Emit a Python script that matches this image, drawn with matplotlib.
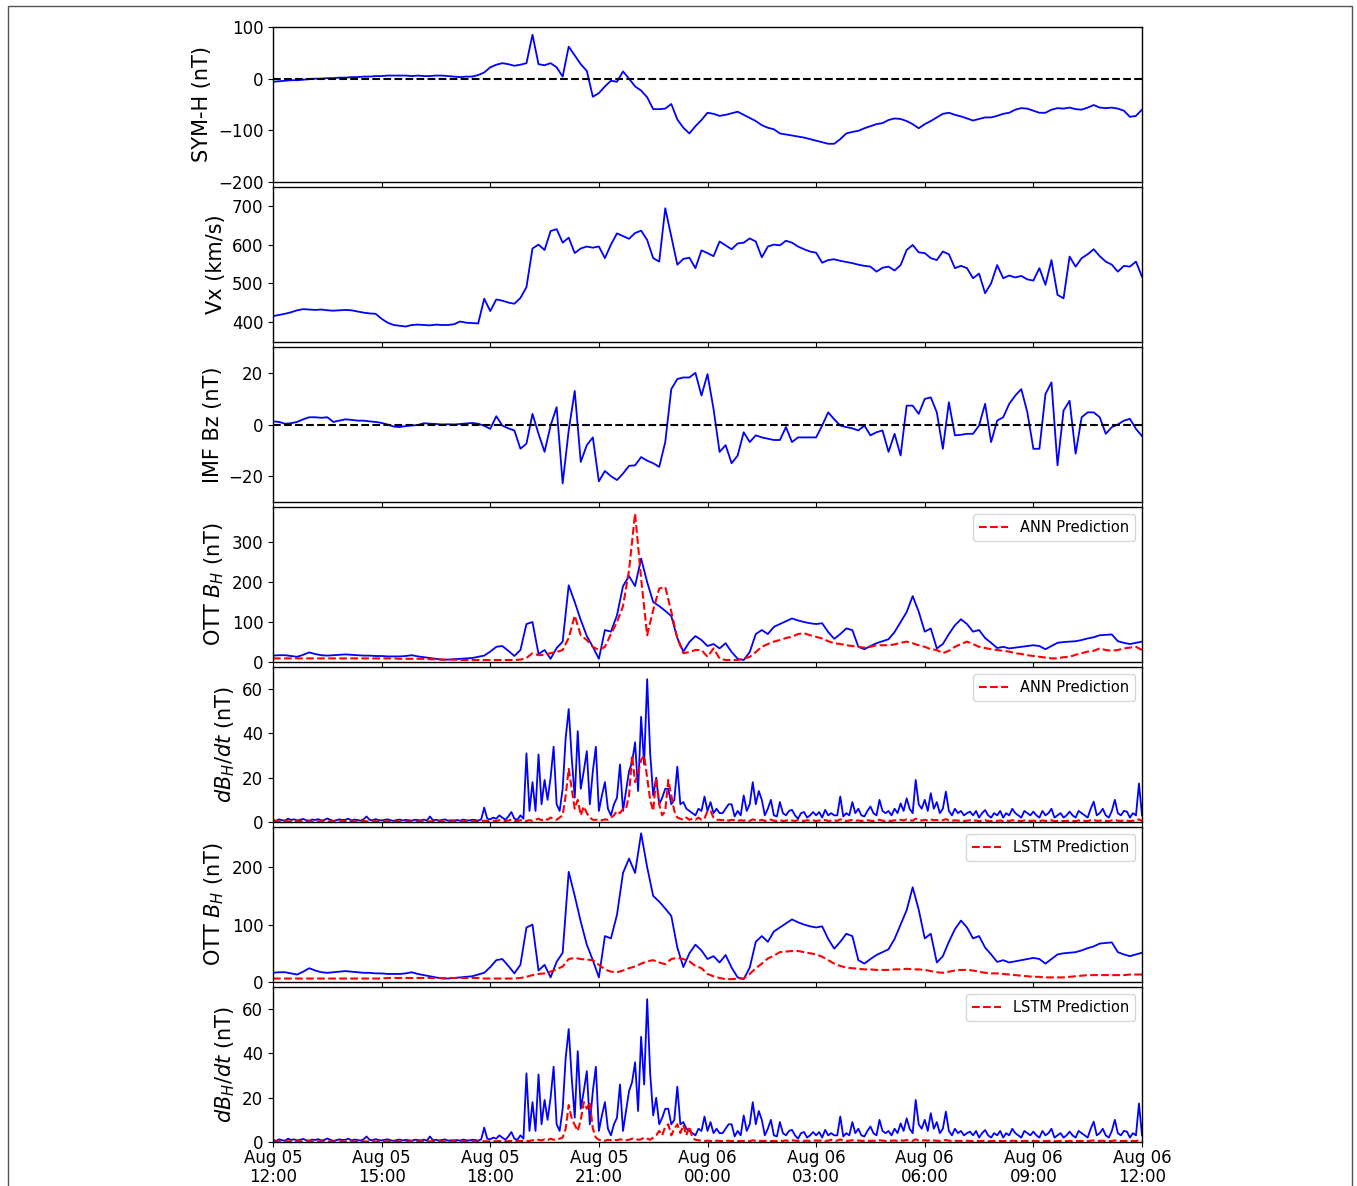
import numpy as np
import pandas as pd
import matplotlib
matplotlib.use("Agg")
import matplotlib.pyplot as plt
import matplotlib.dates as mdates
from matplotlib.patches import Rectangle

START = "2011-08-05 12:00"

# 10-minute samples, one row per hour (12:00 Aug 05 -> 12:00 Aug 06)
symh = [
    -6, -5, -4, -3, -3, -2,
    -1, 0, 0, 1, 1, 2,
    2, 3, 3, 4, 4, 5,
    5, 6, 6, 6, 6, 5,
    6, 5, 5, 6, 6, 5,
    4, 3, 4, 4, 7, 12,
    22, 27, 30, 28, 25, 27,
    30, 85, 28, 26, 30, 22,
    4, 62, 45, 28, 15, -35,
    -28, -15, -4, -6, 14, 0,
    -15, -23, -36, -59, -59, -58,
    -49, -79, -95, -106, -92, -80,
    -66, -68, -72, -70, -67, -64,
    -70, -76, -82, -90, -95, -98,
    -106, -108, -110, -112, -114, -117,
    -120, -123, -126, -126, -117, -106,
    -103, -101, -96, -92, -88, -86,
    -80, -77, -78, -82, -88, -96,
    -88, -82, -75, -68, -66, -70,
    -73, -77, -81, -78, -75, -75,
    -72, -68, -66, -60, -57, -58,
    -62, -66, -66, -60, -57, -58,
    -56, -59, -60, -56, -51, -56,
    -57, -56, -58, -62, -74, -72,
    -60,
]

vx = [
    415, 418, 421, 425, 430, 433,
    432, 431, 432, 430, 429, 430,
    431, 430, 427, 424, 422, 421,
    408, 398, 392, 390, 388, 392,
    393, 392, 391, 393, 392, 392,
    394, 401, 398, 397, 396, 460,
    428, 458, 455, 450, 447, 462,
    490, 590, 600, 586, 635, 640,
    605, 618, 578, 590, 595, 592,
    595, 565, 600, 629, 622, 615,
    630, 636, 612, 565, 556, 694,
    621, 548, 563, 566, 539, 585,
    578, 570, 608, 598, 588, 603,
    605, 616, 608, 567, 595, 600,
    598, 610, 605, 595, 588, 582,
    579, 553, 560, 562, 558, 555,
    552, 548, 545, 543, 530, 540,
    543, 533, 547, 586, 599, 580,
    578, 565, 560, 582, 575, 539,
    545, 539, 513, 525, 474, 500,
    547, 513, 520, 515, 519, 510,
    507, 539, 496, 560, 470, 461,
    569, 543, 565, 575, 588, 570,
    556, 548, 530, 545, 543, 556,
    517,
]

bz = [
    1.2, 1.0, 0.3, 0.5, 1.0, 2.0,
    2.8, 2.8, 2.6, 2.8, 1.0, 1.5,
    2.0, 1.8, 1.5, 1.5, 1.2, 1.0,
    0.6, 0.0, -0.8, -1.0, -0.6, -0.4,
    -0.2, 0.5, 0.3, 0.2, 0.0, 0.1,
    0.0, 0.2, 0.4, 0.6, 0.3, -0.5,
    -1.7, 3.2, -0.4, -1.5, -2.3, -9.4,
    -7.4, 4.1, -3.6, -10.6, -0.4, 6.7,
    -22.8, -2.3, 13.0, -14.5, -8.0, -5.0,
    -22.0, -18.0, -20.0, -21.5, -19.0, -16.0,
    -15.8, -12.6, -14.0, -15.0, -16.4, -6.8,
    13.7, 17.6, 18.2, 18.2, 20.0, 11.2,
    19.5, 6.0, -10.6, -8.0, -15.0, -12.0,
    -3.0, -6.8, -4.2, -5.0, -5.5, -6.0,
    -6.0, -1.0, -6.8, -5.0, -5.0, -5.0,
    -5.0, -0.4, 4.7, 2.0, -0.4, -1.0,
    -1.5, -2.3, -0.4, -4.2, -3.0, -2.3,
    -10.6, -3.6, -12.0, 7.3, 7.3, 4.1,
    9.9, 10.5, 4.7, -9.4, 8.6, -4.2,
    -4.0, -3.6, -3.6, -0.4, 8.0, -6.8,
    1.5, 2.8, 8.0, 11.2, 13.7, 4.7,
    -9.4, -9.4, 11.8, 16.3, -15.8, 5.4,
    9.2, -11.3, 2.8, 4.7, 4.7, 2.8,
    -3.6, -1.0, 0.0, 1.5, 2.2, -1.7,
    -4.5,
]

bh_obs = [
    16, 17, 17, 15, 13, 18,
    24, 20, 17, 16, 17, 18,
    19, 18, 17, 16, 16, 15,
    15, 14, 14, 14, 15, 17,
    14, 12, 10, 8, 6, 6,
    7, 8, 9, 10, 13, 16,
    26, 38, 40, 28, 15, 30,
    95, 100, 20, 30, 8, 35,
    51, 192, 150, 105, 65, 38,
    8, 80, 76, 117, 190, 215,
    190, 259, 200, 150, 140, 128,
    115, 60, 26, 50, 65, 55,
    40, 45, 34, 47, 25, 8,
    5, 25, 70, 80, 70, 88,
    95, 102, 109, 104, 100, 97,
    95, 97, 75, 58, 70, 84,
    80, 38, 32, 40, 47, 52,
    57, 75, 100, 125, 165, 126,
    76, 84, 34, 45, 70, 92,
    107, 95, 76, 80, 60, 48,
    35, 38, 34, 36, 38, 40,
    42, 40, 32, 40, 48, 50,
    51, 52, 55, 59, 62, 67,
    68, 69, 52, 48, 45, 48,
    51,
]

bh_ann = [
    9, 9, 9, 9, 9, 9,
    9, 9, 9, 9, 9, 9,
    9, 9, 9, 9, 9, 9,
    9, 9, 9, 8, 8, 8,
    8, 8, 7, 7, 6, 6,
    6, 5, 5, 5, 5, 5,
    5, 5, 5, 5, 5, 6,
    10, 22, 17, 18, 22, 25,
    30, 60, 116, 67, 55, 38,
    30, 38, 70, 100, 140, 230,
    372, 209, 67, 130, 184, 188,
    126, 59, 22, 25, 30, 30,
    13, 34, 9, 5, 5, 5,
    8, 13, 25, 38, 45, 51,
    55, 60, 63, 70, 72, 67,
    63, 59, 52, 47, 45, 42,
    40, 38, 36, 38, 42, 42,
    42, 44, 48, 51, 47, 42,
    38, 32, 30, 22, 28, 38,
    45, 51, 45, 38, 35, 32,
    30, 28, 26, 22, 20, 17,
    15, 13, 11, 9, 9, 12,
    13, 18, 22, 26, 28, 34,
    30, 28, 30, 34, 36, 38,
    30,
]

bh_lstm = [
    6, 6, 6, 6, 6, 6,
    6, 6, 6, 6, 6, 6,
    6, 6, 6, 6, 6, 6,
    6, 7, 7, 7, 7, 7,
    7, 7, 7, 7, 7, 7,
    7, 7, 7, 7, 7, 6,
    6, 6, 6, 6, 6, 7,
    9, 12, 14, 15, 18, 22,
    27, 40, 42, 40, 39, 38,
    30, 22, 18, 17, 20, 24,
    27, 32, 36, 38, 34, 31,
    40, 42, 40, 36, 28, 24,
    14, 10, 7, 5, 5, 6,
    6, 14, 24, 32, 41, 46,
    52, 53, 54, 54, 52, 50,
    48, 44, 38, 32, 28, 25,
    24, 23, 22, 22, 21, 21,
    21, 22, 22, 23, 22, 22,
    21, 19, 17, 16, 18, 20,
    21, 21, 20, 18, 16, 15,
    15, 14, 13, 12, 11, 10,
    9, 9, 8, 8, 8, 8,
    9, 10, 11, 12, 12, 12,
    12, 12, 12, 12, 13, 13,
    13,
]

# 5-minute samples, one row per hour
dbdt_obs = [
    1.0, 0.5, 1.2, 0.8, 0.6, 1.5, 0.9, 1.2, 0.7, 1.0, 1.4, 0.8,
    0.6, 1.1, 0.9, 1.3, 0.7, 0.9, 1.6, 1.0, 0.5, 0.8, 1.2, 0.9,
    1.0, 1.5, 0.7, 1.1, 0.9, 0.6, 1.2, 2.5, 1.0, 0.8, 1.3, 0.9,
    0.7, 1.0, 1.2, 0.8, 0.5, 0.9, 1.1, 0.7, 1.0, 0.8, 0.6, 1.0,
    0.9, 0.7, 1.1, 0.6, 2.5, 0.8, 1.0, 0.7, 0.9, 1.2, 0.6, 0.8,
    0.7, 0.9, 0.6, 1.1, 0.8, 0.7, 1.0, 0.9, 0.6, 1.2, 6.5, 1.5,
    1.2, 2.0, 1.5, 3.0, 2.0, 1.0, 2.5, 4.5, 1.5, 1.0, 3.0, 1.5,
    31, 5, 18, 5, 30.5, 8, 19, 10, 20, 34, 8, 5,
    15, 38, 51, 29, 11, 41, 15, 23, 32, 8, 23, 34,
    5, 12, 18, 6, 3, 8, 11, 26, 5, 14, 23, 27,
    36, 14, 47.5, 26, 64.5, 31, 12, 20, 8, 11, 15, 15,
    8, 10, 25, 8, 9, 6, 5, 4, 3, 6, 5, 11.5,
    5, 9, 4, 6, 4, 4, 6, 8, 8, 2.5, 5, 3,
    12, 5, 8, 18, 8, 14, 10, 3, 6, 10, 3, 2.5,
    9, 4, 3, 5, 5.5, 3, 1.5, 4, 4.5, 2, 3, 4.5,
    3, 4.5, 2, 5.5, 3, 4, 3, 3, 11.5, 2.5, 4, 3,
    9, 4, 6, 3, 2.5, 5, 7, 4, 3, 10, 5, 4,
    5, 3, 6, 4, 8.4, 5, 10.7, 6, 4, 19, 8, 6,
    10, 5, 13, 6, 9, 4, 6, 13.7, 5, 3, 6, 4,
    5, 3, 4, 4.7, 3, 5, 2, 4, 5.4, 3, 2, 4,
    3, 5, 2, 4, 3, 6, 4, 3, 2, 5, 4, 3,
    4.7, 3, 2, 5, 3, 4, 6, 2, 3, 4, 2, 3,
    4.7, 3, 2, 5, 4, 3, 2, 6, 9.2, 3, 4, 6,
    3, 2, 5, 10, 4, 3, 5, 4.7, 2, 4, 3, 17.4,
    3,
]

dbdt_ann = [
    0.3, 0.4, 0.2, 0.3, 0.5, 0.3, 0.2, 0.4, 0.3, 0.3, 0.5, 0.2,
    0.3, 0.2, 0.4, 0.3, 0.3, 0.5, 0.2, 0.3, 0.4, 0.2, 0.3, 0.3,
    0.4, 0.3, 0.2, 0.3, 0.4, 0.3, 0.5, 0.3, 0.2, 0.3, 0.4, 0.3,
    0.3, 0.2, 0.3, 0.4, 0.2, 0.3, 0.3, 0.4, 0.2, 0.3, 0.2, 0.3,
    0.2, 0.3, 0.4, 0.2, 0.3, 0.3, 0.2, 0.4, 0.3, 0.2, 0.3, 0.3,
    0.3, 0.2, 0.3, 0.3, 0.4, 0.2, 0.3, 0.3, 0.2, 0.4, 0.6, 0.4,
    0.4, 0.6, 0.5, 0.8, 0.5, 0.4, 0.7, 1.0, 0.5, 0.4, 0.8, 0.5,
    0.5, 0.8, 0.6, 1.0, 1.5, 0.8, 1.6, 1.0, 2.0, 1.5, 1.0, 2.0,
    3, 12, 24, 15, 6, 10, 3, 7, 4, 2, 1, 1,
    1, 0.8, 1.2, 1, 2, 3, 5, 4, 6, 6, 12, 30,
    18, 22, 28, 30, 20, 10, 5, 20, 8, 3, 5, 19,
    12, 5, 2, 1.5, 1, 2, 1, 1.5, 1, 2, 1, 1.5,
    5, 5, 2, 1, 1, 0.8, 1.2, 0.6, 1, 0.8, 0.5, 0.8,
    0.6, 1.0, 0.5, 1.2, 0.8, 0.6, 1.0, 0.5, 0.7, 1.1, 0.6, 0.5,
    0.8, 0.5, 0.6, 1.0, 0.7, 0.5, 0.9, 0.6, 0.5, 0.8, 0.6, 0.7,
    0.5, 0.7, 0.6, 0.9, 0.5, 0.6, 0.8, 0.5, 1.2, 0.6, 0.5, 0.7,
    0.9, 0.6, 0.7, 0.5, 0.6, 0.8, 0.6, 0.5, 0.7, 1.0, 0.6, 0.5,
    0.6, 0.5, 0.8, 0.6, 1.0, 0.7, 1.2, 0.8, 0.6, 1.5, 0.9, 0.7,
    1.0, 0.7, 1.2, 0.8, 0.9, 0.6, 0.8, 1.3, 0.7, 0.5, 0.8, 0.6,
    0.7, 0.5, 0.6, 0.8, 0.5, 0.7, 0.4, 0.6, 0.8, 0.5, 0.4, 0.6,
    0.5, 0.7, 0.4, 0.6, 0.5, 0.8, 0.6, 0.5, 0.4, 0.7, 0.6, 0.5,
    0.6, 0.5, 0.4, 0.7, 0.5, 0.6, 0.8, 0.4, 0.5, 0.6, 0.4, 0.5,
    0.6, 0.5, 0.4, 0.7, 0.6, 0.5, 0.4, 0.8, 1.0, 0.5, 0.6, 0.8,
    0.5, 0.4, 0.7, 1.0, 0.6, 0.5, 0.7, 0.6, 0.4, 0.6, 0.5, 1.2,
    0.5,
]

dbdt_lstm = [
    0.3, 0.2, 0.3, 0.3, 0.2, 0.3, 0.3, 0.2, 0.3, 0.3, 0.2, 0.3,
    0.3, 0.3, 0.2, 0.3, 0.3, 0.2, 0.3, 0.3, 0.2, 0.3, 0.3, 0.3,
    0.2, 0.3, 0.3, 0.2, 0.3, 0.3, 0.3, 0.2, 0.3, 0.3, 0.2, 0.3,
    0.3, 0.2, 0.3, 0.3, 0.3, 0.2, 0.3, 0.3, 0.2, 0.3, 0.3, 0.2,
    0.3, 0.3, 0.2, 0.3, 0.3, 0.3, 0.2, 0.3, 0.3, 0.2, 0.3, 0.3,
    0.2, 0.3, 0.3, 0.3, 0.2, 0.3, 0.3, 0.2, 0.3, 0.3, 0.4, 0.3,
    0.3, 0.4, 0.3, 0.5, 0.4, 0.3, 0.4, 0.5, 0.3, 0.4, 0.5, 0.4,
    0.4, 0.5, 0.8, 0.6, 1.0, 0.7, 1.2, 0.8, 1.5, 1.0, 1.2, 1.5,
    2, 6, 16.7, 10.7, 7.7, 5, 10, 18, 15, 18, 6, 2,
    1, 0.8, 0.6, 1, 0.8, 1, 0.8, 1.2, 1, 0.8, 1, 1.5,
    1.5, 1, 1.2, 2, 1.5, 1, 2, 3, 5, 3, 7, 8,
    3, 6, 8, 4, 7.7, 3, 7, 2, 1, 0.8, 0.6, 0.5,
    0.6, 0.5, 0.4, 0.6, 0.5, 0.4, 0.5, 0.6, 0.4, 0.5, 0.4, 0.5,
    0.5, 0.6, 0.4, 0.8, 0.5, 0.6, 0.4, 0.5, 0.6, 0.4, 0.5, 0.4,
    0.6, 0.5, 0.7, 0.5, 0.8, 0.6, 0.5, 0.7, 0.5, 0.6, 0.5, 0.6,
    0.7, 0.6, 0.8, 0.5, 0.6, 1.0, 0.7, 0.6, 1.2, 0.6, 0.5, 0.6,
    0.8, 0.6, 0.7, 0.5, 0.6, 0.7, 0.5, 0.6, 0.5, 0.8, 0.6, 0.5,
    0.5, 0.6, 0.7, 0.5, 0.8, 0.6, 0.9, 0.6, 0.5, 1.2, 0.7, 0.6,
    0.8, 0.6, 1.0, 0.7, 0.6, 0.5, 0.7, 0.9, 0.6, 0.5, 0.6, 0.5,
    0.5, 0.4, 0.6, 0.5, 0.4, 0.6, 0.4, 0.5, 0.6, 0.4, 0.4, 0.5,
    0.4, 0.5, 0.4, 0.5, 0.4, 0.6, 0.5, 0.4, 0.4, 0.5, 0.5, 0.4,
    0.5, 0.4, 0.4, 0.5, 0.4, 0.5, 0.6, 0.4, 0.4, 0.5, 0.4, 0.4,
    0.5, 0.4, 0.4, 0.5, 0.5, 0.4, 0.4, 0.6, 0.7, 0.4, 0.5, 0.6,
    0.4, 0.4, 0.5, 0.7, 0.5, 0.4, 0.5, 0.5, 0.4, 0.5, 0.4, 0.8,
    0.4,
]


def times(values, step):
    return pd.date_range(START, periods=len(values), freq=step)


def main():
    W, H = 1357, 1186
    fig, axes = plt.subplots(7, 1, figsize=(W / 100, H / 100), dpi=100, sharex=True)
    fig.subplots_adjust(left=273 / W, right=1142 / W, top=1 - 27 / H,
                        bottom=1 - 1142 / H, hspace=5 / 155)

    blue = dict(color="blue", lw=1.3)
    red = dict(color="red", lw=1.5, ls="--")

    ax = axes[0]
    ax.plot(times(symh, "10min"), symh, **blue)
    ax.axhline(0, color="k", ls="--", lw=1.5, zorder=3)
    ax.set_ylim(-200, 100)
    ax.set_yticks([-200, -100, 0, 100])
    ax.set_ylabel("SYM-H (nT)")

    ax = axes[1]
    ax.plot(times(vx, "10min"), vx, **blue)
    ax.set_ylim(348, 749)
    ax.set_yticks([400, 500, 600, 700])
    ax.set_ylabel("Vx (km/s)")

    ax = axes[2]
    ax.plot(times(bz, "10min"), bz, **blue)
    ax.axhline(0, color="k", ls="--", lw=1.5, zorder=3)
    ax.set_ylim(-30, 30)
    ax.set_yticks([-20, 0, 20])
    ax.set_ylabel("IMF Bz (nT)")

    ax = axes[3]
    ax.plot(times(bh_obs, "10min"), bh_obs, **blue)
    ax.plot(times(bh_ann, "10min"), bh_ann, label="ANN Prediction", **red)
    ax.set_ylim(0, 388)
    ax.set_yticks([0, 100, 200, 300])
    ax.set_ylabel("OTT $B_H$ (nT)")

    ax = axes[4]
    ax.plot(times(dbdt_obs, "5min"), dbdt_obs, **blue)
    ax.plot(times(dbdt_ann, "5min"), dbdt_ann, label="ANN Prediction", **red)
    ax.set_ylim(0, 70)
    ax.set_yticks([0, 20, 40, 60])
    ax.set_ylabel("$dB_H/dt$ (nT)")

    ax = axes[5]
    ax.plot(times(bh_obs, "10min"), bh_obs, **blue)
    ax.plot(times(bh_lstm, "10min"), bh_lstm, label="LSTM Prediction", **red)
    ax.set_ylim(0, 270)
    ax.set_yticks([0, 100, 200])
    ax.set_ylabel("OTT $B_H$ (nT)")

    ax = axes[6]
    ax.plot(times(dbdt_obs, "5min"), dbdt_obs, **blue)
    ax.plot(times(dbdt_lstm, "5min"), dbdt_lstm, label="LSTM Prediction", **red)
    ax.set_ylim(0, 70)
    ax.set_yticks([0, 20, 40, 60])
    ax.set_ylabel("$dB_H/dt$ (nT)")

    for ax in axes[3:]:
        ax.legend(loc="upper right", fontsize=10.5)

    for ax in axes:
        ax.tick_params(labelsize=12)
        ax.yaxis.label.set_size(15)
        for sp in ax.spines.values():
            sp.set_linewidth(1.0)

    t0 = pd.Timestamp(START)
    axes[-1].set_xlim(t0, t0 + pd.Timedelta(hours=24))
    axes[-1].xaxis.set_major_locator(mdates.HourLocator(byhour=range(0, 24, 3)))
    axes[-1].xaxis.set_major_formatter(mdates.DateFormatter("%b %d\n%H:%M"))
    axes[-1].tick_params(axis="x", pad=1.5)
    for lab in axes[-1].get_xticklabels():
        lab.set_linespacing(1.05)

    # thin frame around the figure, as in the source image
    fig.patches.append(Rectangle((8 / W, -0.02), (1352 - 8) / W, 1.02 - 6 / H,
                                 transform=fig.transFigure, fill=False,
                                 ec="#555555", lw=1.0))

    fig.savefig("out.png", dpi=100)


if __name__ == "__main__":
    main()
